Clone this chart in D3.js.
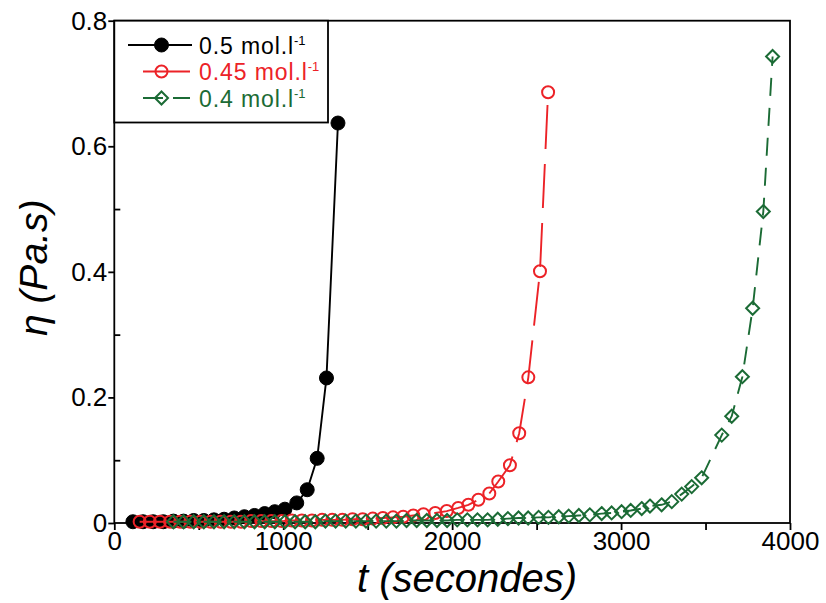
<!DOCTYPE html>
<html>
<head>
<meta charset="utf-8">
<script src="https://cdn.jsdelivr.net/npm/d3@7"></script>
<style>
  html, body { margin: 0; padding: 0; background: #fff; }
  svg { display: block; }
  text { font-family: "Liberation Sans", Arial, sans-serif; }
</style>
</head>
<body>
<svg id="chart" width="826" height="603"></svg>
<script>
// ---- data ----
const seriesNames = ["0.5 mol.l", "0.45 mol.l", "0.4 mol.l"];

const tBlack = [110, 170, 230, 290, 350, 410, 470, 530, 590, 650, 710, 770, 830, 890, 950, 1010, 1080, 1142, 1201, 1256, 1324];
const etaBlack = [0.002, 0.002, 0.002, 0.002, 0.003, 0.003, 0.004, 0.004, 0.005, 0.006, 0.008, 0.010, 0.012, 0.015, 0.018, 0.022, 0.032, 0.053, 0.103, 0.231, 0.637];

const tRed = [150, 210, 270, 330, 390, 450, 510, 570, 630, 690, 750, 810, 870, 930, 990, 1050, 1110, 1170, 1230, 1290, 1350, 1410, 1470, 1530, 1590, 1650, 1710, 1770, 1830, 1900, 1968, 2036, 2096, 2155, 2220, 2273, 2342, 2397, 2451, 2520, 2568];
const etaRed = [0.002, 0.002, 0.002, 0.002, 0.002, 0.002, 0.002, 0.002, 0.002, 0.002, 0.002, 0.003, 0.003, 0.003, 0.003, 0.004, 0.004, 0.004, 0.005, 0.005, 0.005, 0.006, 0.006, 0.007, 0.008, 0.009, 0.010, 0.012, 0.014, 0.016, 0.019, 0.024, 0.029, 0.037, 0.047, 0.066, 0.092, 0.143, 0.232, 0.401, 0.686];

const tGreen = [350, 410, 470, 530, 590, 650, 710, 770, 830, 890, 950, 1010, 1070, 1130, 1190, 1250, 1310, 1370, 1430, 1490, 1550, 1610, 1670, 1730, 1790, 1850, 1910, 1970, 2030, 2090, 2150, 2210, 2270, 2330, 2393, 2450, 2512, 2570, 2631, 2690, 2750, 2815, 2885, 2944, 3003, 3057, 3122, 3171, 3240, 3300, 3359, 3418, 3477, 3596, 3655, 3718, 3779, 3842, 3897];
const etaGreen = [0.002, 0.002, 0.002, 0.002, 0.002, 0.002, 0.002, 0.002, 0.002, 0.002, 0.002, 0.002, 0.002, 0.002, 0.002, 0.003, 0.003, 0.003, 0.003, 0.003, 0.003, 0.003, 0.003, 0.004, 0.004, 0.004, 0.004, 0.004, 0.005, 0.005, 0.005, 0.005, 0.006, 0.007, 0.008, 0.008, 0.009, 0.009, 0.010, 0.011, 0.012, 0.013, 0.015, 0.016, 0.018, 0.020, 0.023, 0.027, 0.029, 0.034, 0.046, 0.058, 0.072, 0.140, 0.170, 0.233, 0.342, 0.496, 0.743];

const xMajorTicks = [0, 1000, 2000, 3000, 4000];
const xMinorTicks = [500, 1500, 2500, 3500];
const yMajorTicks = [0, 0.2, 0.4, 0.6, 0.8];
const yMinorTicks = [0.1, 0.3, 0.5, 0.7];

// ---- layout ----
const svg = d3.select("#chart");
const L = 114.3, R = 790, T = 20.7, B = 523;
const x = d3.scaleLinear().domain([0, 4000]).range([L, R]);
const y = d3.scaleLinear().domain([0, 0.8]).range([B, T]);

const colors = ["#000000", "#ec2227", "#1b6b35"];
const series = [
  { t: tBlack, v: etaBlack, color: colors[0], dash: null, marker: "fcircle" },
  { t: tRed, v: etaRed, color: colors[1], dash: "44,15", marker: "ocircle" },
  { t: tGreen, v: etaGreen, color: colors[2], dash: "18,12", marker: "diamond" }
];

// frame
svg.append("rect").attr("x", L).attr("y", T).attr("width", R - L).attr("height", B - T)
  .attr("fill", "none").attr("stroke", "#000").attr("stroke-width", 1.8);

// axes
const fontTick = 26;
const xAxis = d3.axisBottom(x).tickValues(xMajorTicks.concat(xMinorTicks))
  .tickSize(7).tickPadding(2)
  .tickFormat(d => xMajorTicks.includes(d) ? d3.format("d")(d) : "");
const gx = svg.append("g").attr("transform", `translate(0,${B})`).call(xAxis);
gx.select(".domain").remove();
gx.selectAll("line").attr("stroke-width", 1.8);
gx.selectAll("text").attr("font-size", fontTick).attr("fill", "#000")
  .style("font-family", '"Liberation Sans", Arial, sans-serif');

const yAxis = d3.axisLeft(y).tickValues(yMajorTicks).tickSize(6).tickPadding(1)
  .tickFormat(d => d === 0 ? "0" : d3.format(".1f")(d));
const gy = svg.append("g").attr("transform", `translate(${L},0)`).call(yAxis);
gy.select(".domain").remove();
gy.selectAll("line").attr("stroke-width", 1.8);
gy.selectAll("text").attr("font-size", fontTick).attr("fill", "#000")
  .style("font-family", '"Liberation Sans", Arial, sans-serif');

const yAxisMinor = d3.axisRight(y).tickValues(yMinorTicks).tickSize(6).tickFormat("");
const gym = svg.append("g").attr("transform", `translate(${L},0)`).call(yAxisMinor);
gym.select(".domain").remove();
gym.selectAll("line").attr("stroke-width", 1.8);

// axis titles
svg.append("text").attr("x", 467).attr("y", 592).attr("text-anchor", "middle")
  .attr("font-size", 40).attr("font-style", "italic").text("t (secondes)");
svg.append("text").attr("transform", `translate(47,${(T + B) / 2 - 4}) rotate(-90)`)
  .attr("text-anchor", "middle").attr("font-size", 39).attr("font-style", "italic")
  .text("η (Pa.s)");

// series
const plot = svg.append("g");
function drawMarker(g, type, color) {
  if (type === "fcircle") {
    g.append("circle").attr("r", 7).attr("fill", color).attr("stroke", color).attr("stroke-width", 1);
  } else if (type === "ocircle") {
    g.append("circle").attr("r", 6).attr("fill", "none").attr("stroke", color).attr("stroke-width", 2);
  } else {
    g.append("path").attr("d", "M0,-6.5L6.5,0L0,6.5L-6.5,0Z").attr("fill", "none")
      .attr("stroke", color).attr("stroke-width", 2);
  }
}
series.forEach(s => {
  const pts = s.t.map((t, i) => [t, s.v[i]]);
  const line = d3.line().x(d => x(d[0])).y(d => y(d[1]));
  plot.append("path").datum(pts).attr("d", line).attr("fill", "none")
    .attr("stroke", s.color).attr("stroke-width", 1.9)
    .attr("stroke-dasharray", s.dash);
  const mg = plot.append("g");
  pts.forEach(p => {
    const g = mg.append("g").attr("transform", `translate(${x(p[0])},${y(p[1])})`);
    drawMarker(g, s.marker, s.color);
  });
});

// legend
const lg = svg.append("g");
lg.append("rect").attr("x", L).attr("y", T).attr("width", 328 - L).attr("height", 122.5 - T)
  .attr("fill", "#fff").attr("stroke", "#000").attr("stroke-width", 1.8);
const legendRows = [
  { y: 45, x1: 128, x2: 192, dash: null },
  { y: 71.5, x1: 143, x2: 190, dash: null },
  { y: 98, x1: 143, x2: 190, dash: "20,10" }
];
legendRows.forEach((r, i) => {
  const s = series[i];
  lg.append("line").attr("x1", r.x1).attr("x2", r.x2).attr("y1", r.y).attr("y2", r.y)
    .attr("stroke", s.color).attr("stroke-width", 1.9).attr("stroke-dasharray", r.dash);
  const g = lg.append("g").attr("transform", `translate(161.5,${r.y})`);
  drawMarker(g, s.marker, s.color);
  const tx = lg.append("text").attr("x", 199).attr("y", r.y + 8.5).attr("font-size", 23)
    .attr("letter-spacing", 0.9).attr("fill", s.color);
  tx.append("tspan").text(seriesNames[i]);
  tx.append("tspan").attr("font-size", 13).attr("dy", -9).attr("letter-spacing", 0).text("-1");
});
</script>
</body>
</html>
